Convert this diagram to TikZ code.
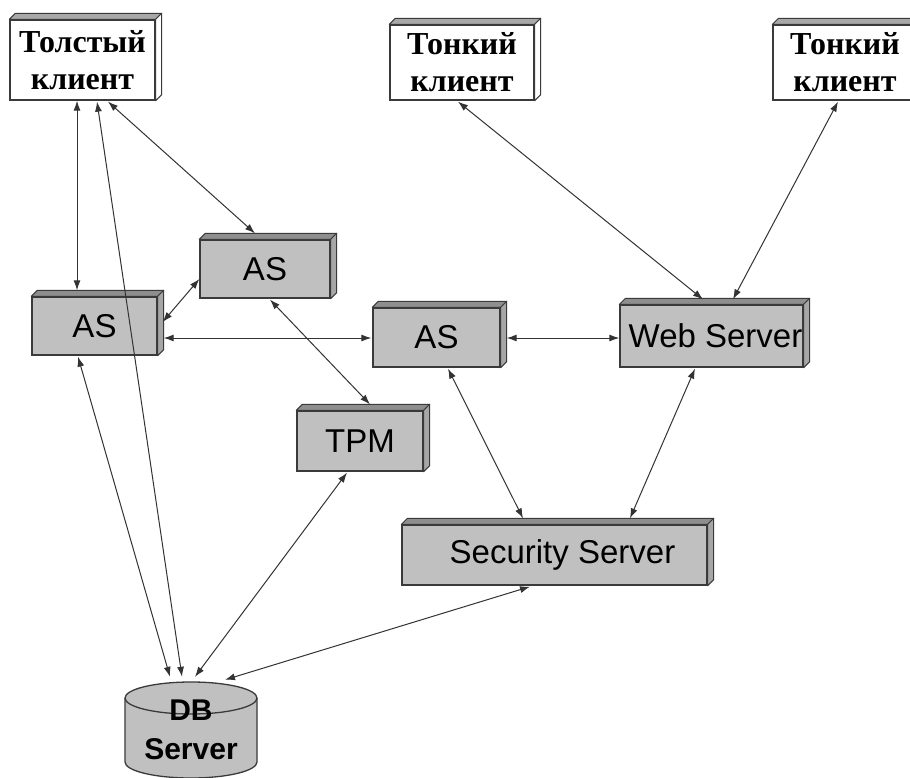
\documentclass[tikz,border=0pt]{standalone}
\usepackage{fontspec}
\setmainfont{Liberation Serif}
\newfontfamily\arialf{Liberation Sans}
\usetikzlibrary{arrows.meta}
\definecolor{boxgray}{HTML}{C0C0C0}
\definecolor{topgray}{HTML}{8E8E8E}
\definecolor{sidegray}{HTML}{A6A6A6}
\definecolor{ctop}{HTML}{A8A8A8}
\definecolor{edgec}{HTML}{3A3A3A}
\newcommand\boxfaces[3]{%
  \filldraw[draw=edgec, line width=1pt, fill=#2, line join=round]
    (#1.north west) -- ([shift={(6,-6)}]#1.north west) -- ([shift={(6,-6)}]#1.north east) -- (#1.north east) -- cycle;
  \filldraw[draw=edgec, line width=1pt, fill=#3, line join=round]
    (#1.north east) -- ([shift={(6,-6)}]#1.north east) -- ([shift={(6,-6)}]#1.south east) -- (#1.south east) -- cycle;}
\begin{document}
\begin{tikzpicture}[x=1pt,y=-1pt,
  face/.style={draw=edgec, line width=1.3pt, inner sep=0pt, align=center},
  client/.style={face, fill=white, font=\fontsize{32}{37}\selectfont\bfseries},
  server/.style={face, fill=boxgray, font=\arialf\fontsize{33}{36}\selectfont},
  link/.style={draw=black!80, line width=1pt, {Latex[length=10pt,width=7pt]}-{Latex[length=10pt,width=7pt]}},
]
\useasboundingbox (0,0) rectangle (910,778);
\fill[white] (0,0) rectangle (910,778);

% clients
\node[client, minimum width=145pt, minimum height=80pt] (tc) at (82.5,60) {Толстый\\клиент};
\node[client, minimum width=144pt, minimum height=75pt] (tn1) at (462,62.5) {Тонкий\\клиент};
\node[client, minimum width=144pt, minimum height=75pt] (tn2) at (845,62.5) {Тонкий\\клиент};
\boxfaces{tc}{ctop}{white}
\boxfaces{tn1}{ctop}{white}
\boxfaces{tn2}{ctop}{white}

% servers
\node[server, minimum width=130pt, minimum height=58pt] (ast) at (265,269) {AS};
\node[server, minimum width=125pt, minimum height=58pt] (asl) at (94.5,326) {AS};
\node[server, minimum width=127pt, minimum height=59pt] (asm) at (436.5,337.5) {AS};
\node[server, minimum width=183pt, minimum height=62pt] (ws) at (711.5,336) {\hspace*{8pt}Web Server};
\node[server, minimum width=126pt, minimum height=60pt] (tpm) at (360,441) {TPM};
\node[server, minimum width=305pt, minimum height=60pt] (ss) at (554.5,555) {\hspace*{16pt}Security Server};
\foreach \n in {ast,asl,asm,ws,tpm,ss}{\boxfaces{\n}{topgray}{sidegray}}

% database cylinder
\path[fill=boxgray, draw=edgec, line width=1.3pt]
  (125,698) -- (125,762) arc[start angle=180, end angle=360, x radius=66pt, y radius=16pt]
  -- (257,698) arc[start angle=0, end angle=180, x radius=66pt, y radius=16pt] -- cycle;
\draw[draw=edgec, line width=1.3pt] (125,698) arc[start angle=180, end angle=360, x radius=66pt, y radius=16pt];
\node[font=\arialf\bfseries\fontsize{30}{39}\selectfont, align=center, minimum width=132pt, minimum height=96pt, inner sep=0pt] (db) at (191,730) {DB\\Server};

% connectors
\draw[link] ([shift={(-5.5,0)}]tc.south) -- ([shift={(-17.5,-6)}]asl.north);
\draw[link] ([shift={(14.5,1)}]tc.south) -- ([shift={(-9,-5)}]db.north);
\draw[link] ([shift={(25.5,1)}]tc.south) -- ([shift={(-10,-6)}]ast.north);
\draw[link] ([shift={(5,-4)}]asl.east) -- ([shift={(0,10)}]ast.west);
\draw[link] ([shift={(6,12)}]asl.east) -- ([shift={(-1,0.5)}]asm.west);
\draw[link] ([shift={(5,1)}]ast.south) -- ([shift={(10,-6)}]tpm.north);
\draw[link] ([shift={(6,0.5)}]asm.east) -- ([shift={(0,2)}]ws.west);
\draw[link] ([shift={(-4,1)}]tn1.south) -- ([shift={(-8.5,-5)}]ws.north);
\draw[link] ([shift={(-7,1)}]tn2.south) -- ([shift={(21.5,-5)}]ws.north);
\draw[link] ([shift={(11.5,1)}]asm.south) -- ([shift={(-31.5,-6)}]ss.north);
\draw[link] ([shift={(-16.5,1)}]ws.south) -- ([shift={(75.5,-6)}]ss.north);
\draw[link] ([shift={(-16.5,1)}]asl.south) -- ([shift={(-21,-5)}]db.north);
\draw[link] ([shift={(-13,1)}]tpm.south) -- ([shift={(4,-5)}]db.north);
\draw[link] ([shift={(-24.5,1)}]ss.south) -- ([shift={(34,-2)}]db.north);
\end{tikzpicture}
\end{document}
